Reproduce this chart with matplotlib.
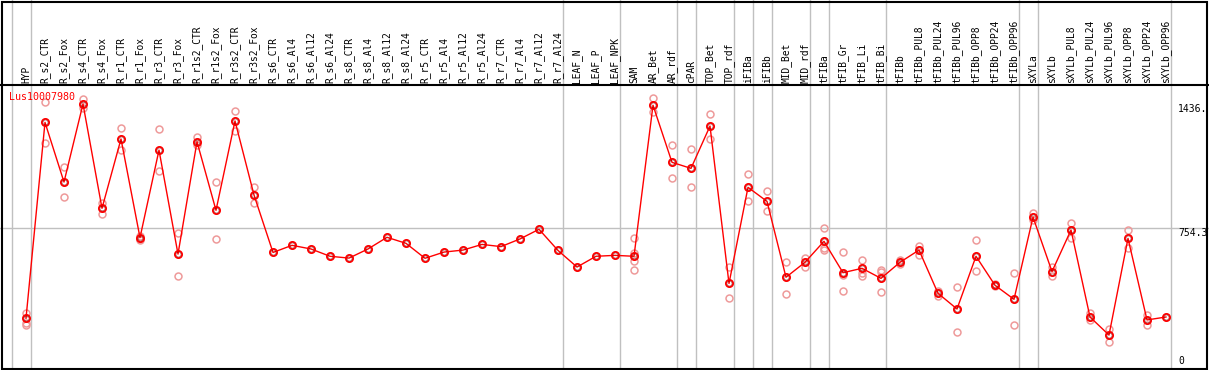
import matplotlib
matplotlib.use("Agg")
import matplotlib.pyplot as plt
from matplotlib.patches import Rectangle

gene = "Lus10007980"
columns = ["HYP", "R_s2_CTR", "R_s2_Fox", "R_s4_CTR", "R_s4_Fox", "R_r1_CTR", "R_r1_Fox",
           "R_r3_CTR", "R_r3_Fox", "R_r1s2_CTR", "R_r1s2_Fox", "R_r3s2_CTR", "R_r3s2_Fox",
           "R_s6_CTR", "R_s6_Al4", "R_s6_Al12", "R_s6_Al24", "R_s8_CTR", "R_s8_Al4",
           "R_s8_Al12", "R_s8_Al24", "R_r5_CTR", "R_r5_Al4", "R_r5_Al12", "R_r5_Al24",
           "R_r7_CTR", "R_r7_Al4", "R_r7_Al12", "R_r7_Al24", "LEAF_N", "LEAF_P", "LEAF_NPK",
           "SAM", "AR_Bet", "AR_rdf", "cPAR", "TOP_Bet", "TOP_rdf", "iFIBa", "iFIBb",
           "MID_Bet", "MID_rdf", "tFIBa", "tFIB_Gr", "tFIB_Li", "tFIB_Bi", "tFIBb",
           "tFIBb_PUL8", "tFIBb_PUL24", "tFIBb_PUL96", "tFIBb_OPP8", "tFIBb_OPP24",
           "tFIBb_OPP96", "sXYLa", "sXYLb", "sXYLb_PUL8", "sXYLb_PUL24", "sXYLb_PUL96",
           "sXYLb_OPP8", "sXYLb_OPP24", "sXYLb_OPP96"]

means = [261, 1335, 1008, 1436, 864, 1244, 703, 1183, 613, 1229, 853, 1343, 937,
         622, 661, 641, 601, 591, 641, 705, 672, 590, 624, 635, 666,
         654, 696, 749, 633, 542, 601, 606, 601,
         1429, 1116, 1083, 1315,
         452, 979, 902, 486, 568, 683, 511, 535, 480, 568, 635, 398, 312,
         601, 442, 365, 816, 517, 745, 268, 169, 699, 252, 268]

replicates = [[290, 236, 225], [1449, 1220], [1091, 924], [1463, 1412], [891, 832],
              [1302, 1183], [712, 697, 689], [1297, 1069], [726, 493], [1257, 1211],
              [1010, 696], [1397, 1288], [981, 891],
              [], [], [], [], [], [], [], [], [], [], [], [], [], [], [], [], [], [], [],
              [700, 618, 575, 524], [1467, 1390], [1209, 1028], [1187, 979], [1379, 1242],
              [540, 370], [1050, 902], [957, 847], [568, 396], [590, 544],
              [754, 644, 635], [622, 498, 409], [580, 507, 494], [525, 513, 403],
              [580, 557], [659, 608], [411, 383], [432, 186], [689, 520], [447, 436],
              [508, 224], [836, 800], [544, 494], [785, 703], [288, 249], [201, 133],
              [745, 648], [279, 224], []]

group_ends = [-1, 0, 28, 31, 34, 35, 37, 38, 39, 41, 42, 45, 52, 53, 60]
max_label = "1436."
mid_value = 754.3
mid_label = "754.3"

W, H = 1209, 370
fig = plt.figure(figsize=(W / 100, H / 100), dpi=100)
xlim = (-26 / 19, (W - 26) / 19)

# background axes (whole figure, pixel y from top)
bg = fig.add_axes([0, 0, 1, 1])
bg.set_xlim(*xlim)
bg.set_ylim(H, 0)
bg.axis("off")
for g in group_ends:
    bg.axvline(g + 0.25, color="#c0c0c0", lw=1.0, zorder=1)

mono = "DejaVu Sans Mono"
for i, lab in enumerate(columns):
    bg.text(i, 83, lab, rotation=90, ha="center", va="bottom",
            fontsize=6.9, family=mono, color="black")

# main data axes
ax = fig.add_axes([0, 1 / H, 1, 284 / H])
ax.patch.set_alpha(0)
ax.set_xlim(*xlim)
ax.set_ylim(-17, 1540)
for s in ["left", "right", "bottom"]:
    ax.spines[s].set_visible(False)
ax.spines["top"].set_linewidth(1.5)
ax.set_xticks([])
ax.set_yticks([])
ax.axhline(mid_value, color="#c0c0c0", lw=1.0, zorder=1)

xs = list(range(len(means)))
for i, reps in enumerate(replicates):
    if reps:
        ax.plot([i] * len(reps), reps, linestyle="none", marker="o", ms=5.0,
                mfc="none", mec="#ee9a9a", mew=1.1, zorder=2)
ax.plot(xs, means, color="red", lw=1.0, zorder=3)
ax.plot(xs, means, linestyle="none", marker="o", ms=5.2, mfc="none",
        mec="red", mew=1.3, zorder=4)
ax.plot(xs, means, linestyle="none", marker="o", ms=3.6, mfc="none",
        mec="#700000", mew=0.5, alpha=0.6, zorder=5)

ytr = ax.get_yaxis_transform()
ax.text(1178 / W, 1436, max_label, transform=ytr, ha="left", va="top",
        fontsize=7, family=mono)
ax.text(1178 / W, mid_value, mid_label, transform=ytr, ha="left", va="top",
        fontsize=7, family=mono)
ax.text(1178 / W, 0, "0", transform=ytr, ha="left", va="bottom",
        fontsize=7, family=mono)
ax.text(9 / W, 1474, gene, transform=ytr, ha="left", va="center",
        fontsize=7.2, family=mono, color="red")

# figure border
fig.add_artist(Rectangle((1.5 / W, 1.5 / H), (1206.5 - 1.5) / W, (368.5 - 1.5) / H,
                         transform=fig.transFigure, fill=False, lw=1.5,
                         edgecolor="black"))

fig.savefig("out.png", dpi=100)
